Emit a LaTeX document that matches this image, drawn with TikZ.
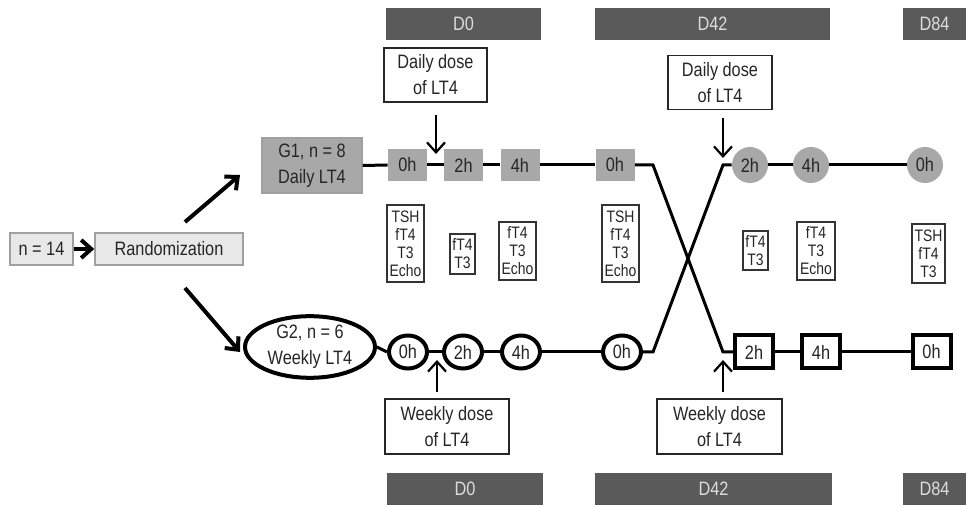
\documentclass[tikz,border=0pt]{standalone}
\usepackage{fontspec}
\setmainfont{Liberation Sans}[FakeStretch=0.84]
\usetikzlibrary{arrows.meta,shapes.geometric,calc}
\definecolor{hdr}{HTML}{5A5A5A}
\definecolor{hdrtxt}{HTML}{DCDCDC}
\definecolor{midgray}{HTML}{A8A8A8}
\definecolor{lightfill}{HTML}{E8E8E8}
\definecolor{lightedge}{HTML}{A0A0A0}
\begin{document}
\begin{tikzpicture}[x=0.5pt,y=-0.5pt,
  every node/.style={font=\fontsize{9.7}{13}\selectfont, inner sep=0pt, align=center, text=black!85},
  hdrbar/.style={fill=hdr, text=hdrtxt, minimum height=16pt},
  graysq/.style={fill=midgray, minimum width=19.5pt, minimum height=16pt},
  graycirc/.style={circle, fill=midgray, minimum size=18pt},
  wcirc/.style={ellipse, draw=black, line width=2pt, fill=white, minimum width=19pt, minimum height=16.5pt},
  wsq/.style={draw=black, line width=2pt, fill=white, minimum width=19pt, minimum height=16.5pt},
  dosebox/.style={draw=black!85, line width=0.9pt, fill=white, minimum height=27pt},
  labbox/.style={draw=black!80, line width=0.9pt, fill=white, font=\fontsize{8.3}{9}\selectfont},
  lightbox/.style={draw=lightedge, line width=0.8pt, fill=lightfill, minimum height=16pt},
  track/.style={line width=1.5pt, black},
  thinarr/.style={line width=1.1pt, -{Straight Barb[length=5pt,width=9pt,line width=1.1pt]}},
  thickarr/.style={line width=2pt, -{Straight Barb[length=5pt,width=9pt,line width=2pt]}}
]
\useasboundingbox (0,0) rectangle (966,507);

% header bars
\node[hdrbar, minimum width=77.5pt] (tD0) at (463.5,24) {D0};
\node[hdrbar, minimum width=117.5pt] (tD42) at (712.5,24) {D42};
\node[hdrbar, minimum width=31.5pt] (tD84) at (934.5,24) {D84};
\node[hdrbar, minimum width=78pt] (bD0) at (465,489) {D0};
\node[hdrbar, minimum width=118.5pt] (bD42) at (713.5,489) {D42};
\node[hdrbar, minimum width=31.5pt] (bD84) at (934.5,489) {D84};

% left part
\node[lightbox, minimum width=31.5pt] (n14) at (41.5,249) {n = 14};
\node[lightbox, minimum width=74pt] (rand) at (169,249) {Randomization};
\node[fill=midgray, draw=lightedge, line width=0.6pt, minimum width=50pt, minimum height=27.5pt] (g1) at (312,165.5) {G1, n = 8\\Daily LT4};
\node[ellipse, draw=black, line width=2pt, fill=white, minimum width=65pt, minimum height=28pt] (g2) at (310,347) {G2, n = 6\\Weekly LT4};

\draw[thickarr] (n14.east) -- (rand.west);
\coordinate (ua) at (185,222);
\coordinate (ub) at (240,175);
\coordinate (la) at (185,288);
\coordinate (lb) at (240,352);
\draw[thickarr] (ua) -- (ub);
\draw[thickarr] (la) -- (lb);

% G1 track nodes
\node[graysq] (q1) at (407.5,165) {0h};
\node[graysq] (q2) at (463.5,165) {2h};
\node[graysq] (q3) at (520,165) {4h};
\node[graysq] (q4) at (615,165) {0h};
\node[graycirc] (c1) at (750,165) {2h};
\node[graycirc] (c2) at (811,165) {4h};
\node[graycirc] (c3) at (925,165) {0h};

% G2 track nodes
\node[wcirc] (w1) at (408,352) {0h};
\node[wcirc] (w2) at (463,352) {2h};
\node[wcirc] (w3) at (521,352) {4h};
\node[wcirc] (w4) at (622,352) {0h};
\node[wsq] (s1) at (754,352) {2h};
\node[wsq] (s2) at (821,352) {4h};
\node[wsq] (s3) at (931.5,352) {0h};

\coordinate (k1) at (653,165);
\coordinate (k2) at (723,352);
\coordinate (k3) at (653,352);
\coordinate (k4) at (723,165);

% track lines
\draw[track] (g1.east) -- (q1.west);
\draw[track] (q1.east) -- (q2.west);
\draw[track] (q2.east) -- (q3.west);
\draw[track] (q3.east) -- (q4.west);
\draw[track, line join=miter] (q4.east) -- (k1) -- (k2) -- (s1.west);
\draw[track] (s1.east) -- (s2.west);
\draw[track] (s2.east) -- (s3.west);

\draw[track] (g2.east) -- (w1.west);
\draw[track] (w1.east) -- (w2.west);
\draw[track] (w2.east) -- (w3.west);
\draw[track] (w3.east) -- (w4.west);
\draw[track, line join=miter] (w4.east) -- (k3) -- (k4) -- (c1.west);
\draw[track] (c1.east) -- (c2.west);
\draw[track] (c2.east) -- (c3.west);

% dose boxes
\node[dosebox, minimum width=51.5pt] (dd1) at (435.5,75) {Daily dose\\of LT4};
\node[dosebox, minimum width=52pt] (dd2) at (720,82.5) {Daily dose\\of LT4};
\node[dosebox, minimum width=62pt, minimum height=27.5pt] (wd1) at (447,426.5) {Weekly dose\\of LT4};
\node[dosebox, minimum width=62.5pt, minimum height=27.5pt] (wd2) at (719.5,426.5) {Weekly dose\\of LT4};

\coordinate (a1s) at (436,115);
\coordinate (a1e) at (436,154);
\coordinate (a2s) at (723,118);
\coordinate (a2e) at (723,158);
\coordinate (a3s) at (437,392);
\coordinate (a3e) at (437,360);
\coordinate (a4s) at (723,392);
\coordinate (a4e) at (723,360);
\draw[thinarr] (a1s) -- (a1e);
\draw[thinarr] (a2s) -- (a2e);
\draw[thinarr] (a3s) -- (a3e);
\draw[thinarr] (a4s) -- (a4e);

% lab boxes
\node[labbox, minimum width=18.5pt, minimum height=38.5pt] (L1) at (405.5,243.5) {TSH\\fT4\\T3\\Echo};
\node[labbox, minimum width=12.5pt, minimum height=20pt] (L2) at (462.5,254) {fT4\\T3};
\node[labbox, minimum width=18.5pt, minimum height=29pt] (L3) at (517.5,251) {fT4\\T3\\Echo};
\node[labbox, minimum width=18.5pt, minimum height=38.5pt] (L4) at (620.5,243.5) {TSH\\fT4\\T3\\Echo};
\node[labbox, minimum width=12.5pt, minimum height=19.5pt] (L5) at (755.5,250.5) {fT4\\T3};
\node[labbox, minimum width=19pt, minimum height=29pt] (L6) at (816,251) {fT4\\T3\\Echo};
\node[labbox, minimum width=16.5pt, minimum height=29.5pt] (L7) at (928.5,253.5) {TSH\\fT4\\T3};
\end{tikzpicture}
\end{document}
